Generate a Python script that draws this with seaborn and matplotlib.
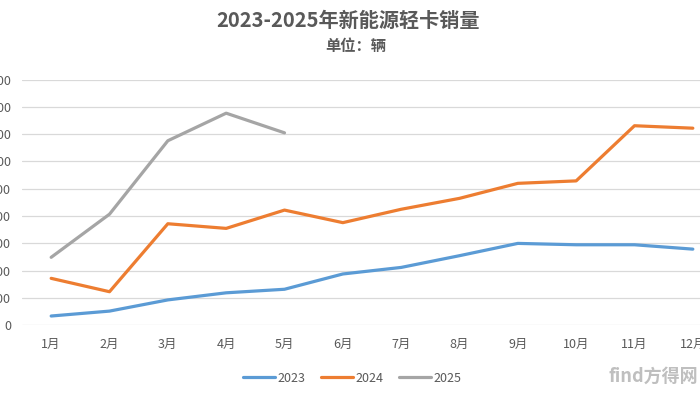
import pandas as pd
import matplotlib.pyplot as plt
import seaborn as sns

# Data (vehicles per month)
months = ["1月", "2月", "3月", "4月", "5月", "6月", "7月", "8月", "9月", "10月", "11月", "12月"]
sales_2023 = [340, 520, 930, 1190, 1320, 1880, 2120, 2550, 3000, 2950, 2950, 2790]
sales_2024 = [1720, 1230, 3720, 3550, 4220, 3760, 4250, 4650, 5200, 5290, 7310, 7220]
sales_2025 = [2490, 4070, 6760, 7770, 7050]
y_ticks = [0, 1000, 2000, 3000, 4000, 5000, 6000, 7000, 8000, 9000]

years = ["2023", "2024", "2025"]
colors = ["#5B9BD5", "#ED7D31", "#A5A5A5"]

# long-form table for seaborn
rows = []
for year, vals in zip(years, [sales_2023, sales_2024, sales_2025]):
    for i, v in enumerate(vals):
        rows.append({"month": i, "year": year, "sales": v})
df = pd.DataFrame(rows)

sns.set_style("white")
plt.rcParams["font.family"] = ["Noto Sans CJK SC", "DejaVu Sans"]

fig = plt.figure(figsize=(7, 3.94), dpi=100)
ax = fig.add_axes([22 / 700, 68.7 / 394, 700 / 700, 245.7 / 394])

sns.lineplot(data=df, x="month", y="sales", hue="year", palette=colors,
             linewidth=2.3, ax=ax, legend=False)

ax.set_xlim(-0.5, 11.5)
ax.set_ylim(0, 9000)
ax.set_yticks(y_ticks)
ax.set_yticklabels([str(t) for t in y_ticks])
ax.set_xticks(range(len(months)))
ax.set_xticklabels(months)
ax.tick_params(axis="both", length=0, labelsize=9, labelcolor="#595959")
ax.tick_params(axis="x", pad=9)
ax.tick_params(axis="y", pad=8)
ax.grid(axis="y", color="#D9D9D9", linewidth=0.9)
ax.set_axisbelow(True)
ax.set_xlabel("")
ax.set_ylabel("")
for s in ax.spines.values():
    s.set_visible(False)

# titles
fig.text(348 / 700, 1 - 20 / 394, "2023-2025年新能源轻卡销量", ha="center", va="center",
         fontsize=14.5, fontweight="bold", color="#595959")
fig.text(356 / 700, 1 - 46 / 394, "单位：辆", ha="center", va="center",
         fontsize=11, fontweight="bold", color="#595959")

# legend
handles = [plt.Line2D([0], [0], color=c, linewidth=2.3) for c in colors]
fig.legend(handles, years, loc="center", bbox_to_anchor=(352 / 700, 1 - 378 / 394),
           ncol=3, frameon=False, fontsize=9, labelcolor="#595959",
           handlelength=2.6, handletextpad=0.2, columnspacing=1.2)

# watermark
fig.text(0.998, 1 - 376 / 394, "find方得网", ha="right", va="center",
         fontsize=13, color="#BFBFBF", fontweight="bold")

fig.savefig("out.png", dpi=100)
